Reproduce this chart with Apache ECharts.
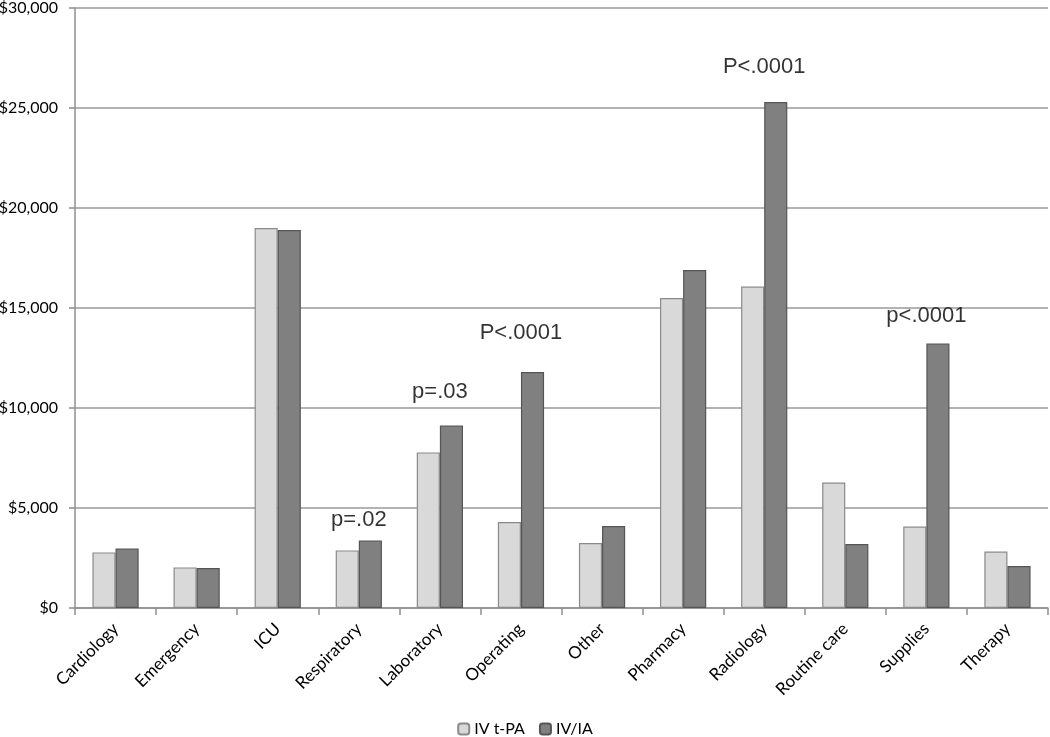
<!DOCTYPE html>
<html><head><meta charset="utf-8">
<script src="https://cdn.jsdelivr.net/npm/echarts@6/dist/echarts.min.js"></script>
<style>html,body{margin:0;padding:0;background:#fff}#c{width:1050px;height:737px}</style>
</head><body><div id="c"></div>
<script>
const categories = ['Cardiology','Emergency','ICU','Respiratory','Laboratory','Operating','Other','Pharmacy','Radiology','Routine care','Supplies','Therapy'];
const ivtpa = [2780, 2030, 19000, 2880, 7780, 4300, 3250, 15500, 16070, 6270, 4070, 2820];
const ivia  = [2970, 2000, 18900, 3380, 9130, 11800, 4100, 16900, 25300, 3200, 13230, 2100];
const annotCats = ['Respiratory','Laboratory','Operating','Radiology','Supplies'];
const annotTexts = ['p=.02','p=.03','P<.0001','P<.0001','p<.0001'];
const annotValues = [4400, 10800, 13750, 27050, 14600];
const yTicks = [0, 5000, 10000, 15000, 20000, 25000, 30000];

const font = 'Lato, "Open Sans", sans-serif';
const chart = echarts.init(document.getElementById('c'));
chart.setOption({
  animation: false,
  textStyle: {fontFamily: font},
  grid: {left: 75, right: 2, top: 8, bottom: 129, containLabel: false, outerBoundsMode: 'none'},
  legend: {
    top: 716, left: 'center', itemWidth: 11, itemHeight: 11, itemGap: 14,
    textStyle: {fontSize: 16, color: '#000', fontFamily: font},
    data: ['IV t-PA','IV/IA']
  },
  xAxis: {
    type: 'category', data: categories,
    axisLine: {lineStyle: {color: '#8f8f8f', width: 1.5}},
    axisTick: {show: true, length: 7, lineStyle: {color: '#8f8f8f', width: 1.5}},
    axisLabel: {rotate: 45, fontSize: 17, color: '#000', margin: 18, fontFamily: font}
  },
  yAxis: {
    type: 'value', min: yTicks[0], max: yTicks[yTicks.length-1], interval: 5000,
    axisLine: {show: true, lineStyle: {color: '#8f8f8f', width: 1.5}},
    axisTick: {show: true, length: 6, lineStyle: {color: '#8f8f8f', width: 1.5}},
    splitLine: {lineStyle: {color: '#9a9a9a', width: 1.5}},
    axisLabel: {fontSize: 16, color: '#000', margin: 17, fontFamily: font,
      formatter: v => '$' + v.toLocaleString('en-US')}
  },
  series: [
    {name: 'IV t-PA', type: 'bar', data: ivtpa, barGap: '0%', barCategoryGap: '43%',
     itemStyle: {color: '#d9d9d9', borderColor: '#8a8a8a', borderWidth: 1.2}},
    {name: 'IV/IA', type: 'bar', data: ivia, barGap: '0%', barCategoryGap: '43%',
     itemStyle: {color: '#808080', borderColor: '#555555', borderWidth: 1.2}},
    {name: 'annot', type: 'scatter', symbolSize: 0, silent: true,
     data: annotCats.map((c, i) => ({value: [c, annotValues[i]], label: {formatter: annotTexts[i]}})),
     label: {show: true, position: 'inside', fontSize: 22, color: '#000', fontFamily: '"Liberation Sans", Arial, sans-serif'}}
  ]
});
</script></body></html>
